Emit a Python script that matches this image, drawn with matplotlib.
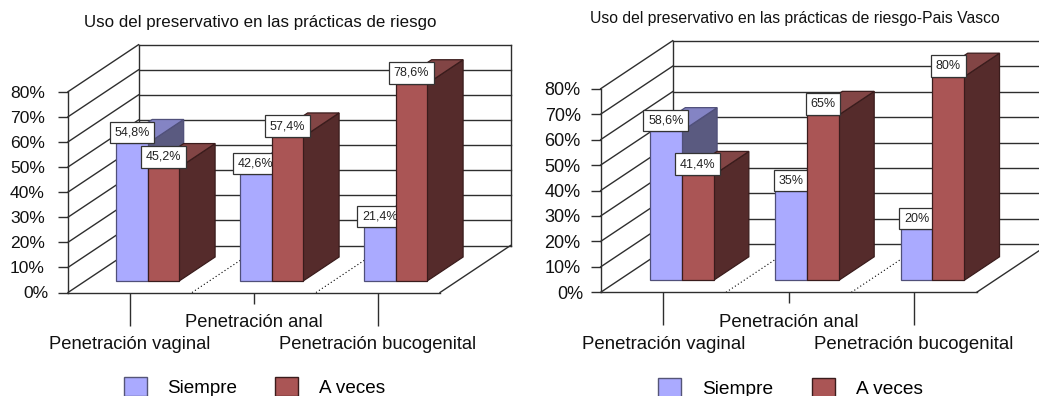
import matplotlib
matplotlib.use("Agg")
import matplotlib.pyplot as plt
from matplotlib.patches import Polygon, Patch
from matplotlib.transforms import ScaledTranslation

plt.rcParams['font.family'] = ['Liberation Sans', 'DejaVu Sans']

categories = ["Penetración vaginal", "Penetración anal", "Penetración bucogenital"]
series_names = ["Siempre", "A veces"]
y_ticks = [0, 10, 20, 30, 40, 50, 60, 70, 80]

left_title = "Uso del preservativo en las prácticas de riesgo"
left_siempre = [54.8, 42.6, 21.4]
left_aveces = [45.2, 57.4, 78.6]
left_siempre_labels = ["54,8%", "42,6%", "21,4%"]
left_aveces_labels = ["45,2%", "57,4%", "78,6%"]

right_title = "Uso del preservativo en las prácticas de riesgo-Pais Vasco"
right_siempre = [58.6, 35, 20]
right_aveces = [41.4, 65, 80]
right_siempre_labels = ["58,6%", "35%", "20%"]
right_aveces_labels = ["41,4%", "65%", "80%"]

BLUE = ("#AAAAFF", "#8484C4", "#5A5A80", "#50507A")
RED = ("#AA5555", "#824545", "#552B2B", "#3A1C1C")
LINE = "#2E2E2E"
W, H = 1039, 396

fig = plt.figure(figsize=(W / 100, H / 100), dpi=100, facecolor="white")


def panel(x0, y0, width, height, dx, dy, d0, d1, title, title_xy, title_fs, s1, s2, l1, l2,
          fs_y, fs_x, fs_leg, pad_y, leg_xy, zero_shift):
    ax = fig.add_axes([x0 / W, 1 - y0 / H, width / W, height / H])
    ax.set_xlim(0, 3)
    ax.set_ylim(0, 80)
    ax.patch.set_visible(False)
    sx = dx / (width / 3)
    sy = dy / (height / 80)

    def P(u, v, d):
        return (u + d * sx, v + d * sy)

    def line(a, b, **kw):
        kw.setdefault("color", LINE)
        kw.setdefault("lw", 1.0)
        ax.plot([a[0], b[0]], [a[1], b[1]], clip_on=False, zorder=2,
                solid_capstyle="projecting", **kw)

    for v in y_ticks:
        line(P(0, v, 0), P(0, v, 1))
        line(P(0, v, 1), P(3, v, 1))
    line(P(0, 0, 1), P(0, 80, 1))
    line(P(3, 0, 1), P(3, 80, 1))
    line(P(3, 0, 0), P(3, 0, 1))
    for u in (1, 2):
        line(P(u, 0, 0), P(u, 0, 1), ls=(0, (1, 2.2)), lw=0.8, color="black")

    z = 5
    bar_w = 0.2535
    for i in range(3):
        for j, (vals, labs, col) in enumerate(((s1, l1, BLUE), (s2, l2, RED))):
            a = i + 0.25 + bar_w * j
            b = a + bar_w
            v = vals[i]
            faces = (
                ([P(b, 0, d0), P(b, 0, d1), P(b, v, d1), P(b, v, d0)], col[2]),
                ([P(a, v, d0), P(b, v, d0), P(b, v, d1), P(a, v, d1)], col[1]),
                ([P(a, 0, d0), P(b, 0, d0), P(b, v, d0), P(a, v, d0)], col[0]),
            )
            for pts, fc in faces:
                ax.add_patch(Polygon(pts, closed=True, facecolor=fc, edgecolor=col[3],
                                     lw=0.9, zorder=z, clip_on=False, joinstyle="miter"))
            z += 1
            cx, top = P((a + b) / 2, v, d0)
            ax.annotate(labs[i], xy=(cx, top), xytext=(0, 3.4), textcoords="offset points",
                        ha="center", va="bottom", fontsize=9.0, color="#222222", zorder=z,
                        annotation_clip=False,
                        bbox=dict(boxstyle="square,pad=0.38", fc="white", ec="#333333", lw=0.9))
            z += 1

    for s in ("top", "right"):
        ax.spines[s].set_visible(False)
    for s in ("left", "bottom"):
        ax.spines[s].set_color(LINE)
        ax.spines[s].set_linewidth(1.0)

    ax.set_yticks(y_ticks)
    ax.set_yticklabels([f"{v}%" for v in y_ticks], fontsize=fs_y, color="#111111")
    ax.tick_params(axis="y", length=7.2, width=1.0, color=LINE, pad=pad_y)
    zero = ax.get_yticklabels()[0]
    zero.set_transform(zero.get_transform() + ScaledTranslation(zero_shift / 72, 0, fig.dpi_scale_trans))

    ax.set_xticks([0.5, 1.5, 2.5])
    ax.set_xticklabels(categories, fontsize=fs_x, color="#111111")
    ax.tick_params(axis="x", width=1.0, color=LINE)
    lengths = [23.5, 7.7, 23.5]
    pads = [31.5, 15.5, 31.5]
    for t, ln, p in zip(ax.xaxis.get_major_ticks(), lengths, pads):
        t.tick1line.set_markersize(ln)
        t._apply_params(pad=p - ln)
        t._apply_params(size=ln)

    fig.text(title_xy[0] / W, 1 - title_xy[1] / H, title, ha="center", va="center",
             fontsize=title_fs, color="#111111")

    handles = [Patch(facecolor=BLUE[0], edgecolor="#555577", lw=1.0, label=series_names[0]),
               Patch(facecolor=RED[0], edgecolor="#3A1C1C", lw=1.0, label=series_names[1])]
    ax.legend(handles=handles, loc="upper left", ncol=2, frameon=False, fontsize=fs_leg,
              bbox_to_anchor=(leg_xy[0] / W, 1 - leg_xy[1] / H), bbox_transform=fig.transFigure,
              borderpad=0, borderaxespad=0, handlelength=1.2, handleheight=1.2,
              handletextpad=1.1, columnspacing=2.0)


panel(68, 292.5, 372, 200.8, 70.5, 47, 0.245, 0.755, left_title, (260.5, 22), 12.2,
      left_siempre, left_aveces, left_siempre_labels, left_aveces_labels,
      12.6, 13.2, 13.6, 9.4, (124, 377), 2.2)
panel(600.7, 292.3, 376, 203.6, 72, 48, 0.25, 0.74, right_title, (795.3, 18.5), 11.3,
      right_siempre, right_aveces, right_siempre_labels, right_aveces_labels,
      13.0, 13.4, 13.8, 7.2, (658, 378), 2.0)

fig.savefig("out.png", dpi=100, facecolor="white")
